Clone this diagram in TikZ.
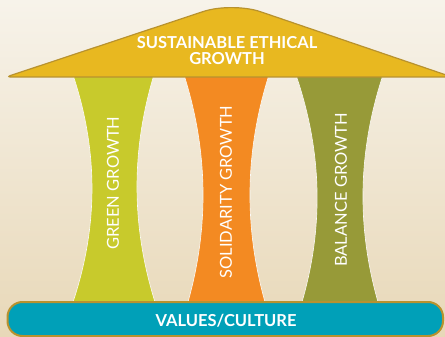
\documentclass[tikz,border=0pt]{standalone}
\usepackage{fontspec}
\setmainfont{Lato}
\definecolor{roofc}{HTML}{E8B820}
\definecolor{roofb}{HTML}{B8922E}
\definecolor{greenc}{HTML}{C8CA2C}
\definecolor{orangec}{HTML}{F38A22}
\definecolor{olivec}{HTML}{979A38}
\definecolor{tealc}{HTML}{00A0B8}
\definecolor{bgtop}{HTML}{F7F3EA}
\definecolor{bgbot}{HTML}{E8D8B8}
\tikzset{
  pillar/.style={draw=white!60!bgtop, line width=0.6pt},
  ptext/.style={text=white, font=\fontsize{16.5}{18}\selectfont, rotate=90},
  btext/.style={text=white, font=\bfseries\fontsize{16.5}{18}\selectfont, align=center}
}
\begin{document}
\begin{tikzpicture}[x=1pt,y=-1pt]
\useasboundingbox (0,0) rectangle (445,337);
\shade[top color=bgtop, bottom color=bgbot] (0,0) rectangle (445,337);
% pillars
\fill[greenc, pillar] (74,70) -- (74,78) .. controls (98.3,152.7) and (98,227.3) .. (73,302) -- (73,310)
  -- (155,310) -- (155,302) .. controls (131.7,227.3) and (131,152.7) .. (153,78) -- (153,70) -- cycle;
\fill[orangec, pillar] (185,70) -- (185,78) .. controls (208,152.7) and (209,227.3) .. (188,302) -- (188,310)
  -- (265,310) -- (265,302) .. controls (244,227.3) and (245,152.7) .. (268,78) -- (268,70) -- cycle;
\fill[olivec, pillar] (297,70) -- (297,78) .. controls (322,152.7) and (323.7,227.3) .. (302,302) -- (302,310)
  -- (378,310) -- (378,302) .. controls (356.7,227.3) and (358,152.7) .. (382,78) -- (382,70) -- cycle;
% roof
\filldraw[fill=roofc, draw=roofb, line width=1.2pt]
  (6,77) [rounded corners=30pt] -- (232,2) [rounded corners=4pt] -- (452,77)
  [rounded corners=5pt] -- cycle;
% base
\filldraw[fill=tealc, draw=roofb, line width=2pt, rounded corners=15pt]
  (7.5,302) rectangle (443,336);
\node[btext] (roof) at (227,51) {SUSTAINABLE ETHICAL\\[-2pt]GROWTH};
\node[btext] (base) at (226,321) {VALUES/CULTURE};
\node[ptext] (g) at (113,183) {GREEN GROWTH};
\node[ptext] (s) at (226,192) {SOLIDARITY GROWTH};
\node[ptext] (b) at (341,190) {BALANCE GROWTH};
\end{tikzpicture}
\end{document}
